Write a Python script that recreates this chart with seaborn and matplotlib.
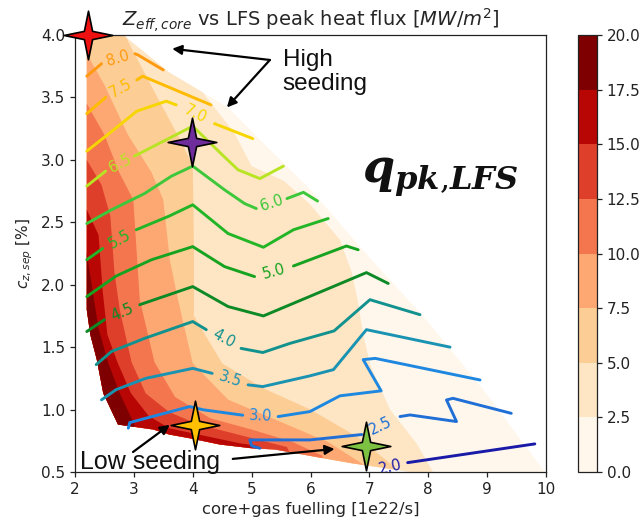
import numpy as np
import pandas as pd
import matplotlib
matplotlib.use("Agg")
import matplotlib.pyplot as plt
from matplotlib.path import Path
from matplotlib.patches import Polygon
from matplotlib.colors import ListedColormap, BoundaryNorm
import matplotlib.cm as mcm
import seaborn as sns

# ------------------------------------------------------------------ data
# filled field: LFS peak heat flux bands [MW/m2]
q_levels = [0.0, 2.5, 5.0, 7.5, 10.0, 12.5, 15.0, 17.5, 20.0]

# outline of the scanned (fuelling, seeding) domain
dom_x = [2.2, 2.2, 2.26, 2.37, 2.48, 2.73, 3.33, 3.6, 3.95, 4.46, 5.0, 5.4, 6.1, 6.7,
         7.7, 9.98, 9.0, 8.0, 7.0, 6.0, 5.1, 4.6, 3.6, 2.82]
dom_y = [4.0, 1.80, 1.60, 1.40, 1.13, 0.88, 0.84, 0.80, 0.77, 0.72, 0.69, 0.68, 0.62, 0.57,
         0.50, 0.50, 1.12, 1.70, 2.22, 2.76, 3.18, 3.42, 3.70, 4.0]

# iso-lines of q (boundaries between colour bands), high side = lower-left
q_iso_2p5 = [(4.0, 3.75), (4.2, 3.52), (4.7, 3.22), (5.0, 2.95), (5.55, 2.83), (6.0, 2.64),
             (6.5, 2.36), (6.7, 2.1), (6.8, 1.88), (6.9, 1.585), (7.02, 1.35), (7.35, 1.0),
             (7.8, 0.73), (8.08, 0.5), (8.12, 0.4)]
q_iso_5p0 = [(2.7, 4.2), (2.9, 3.95), (3.4, 3.5), (3.8, 3.15), (4.0, 2.95), (4.02, 2.3),
             (4.02, 1.75), (4.5, 1.37), (5.2, 1.17), (6.0, 1.0), (6.8, 0.78), (7.4, 0.55),
             (7.5, 0.4)]
q_iso_7p5 = [(2.0, 3.9), (2.2, 3.85), (2.5, 3.6), (2.9, 3.2), (3.3, 2.9), (3.5, 2.68),
             (3.61, 2.2), (3.75, 1.88), (4.0, 1.37), (4.6, 1.08), (5.5, 0.9), (6.3, 0.74),
             (6.9, 0.56), (7.0, 0.4)]
q_iso_10p0 = [(2.0, 3.47), (2.2, 3.45), (2.5, 3.2), (2.75, 2.9), (2.99, 2.68), (3.1, 1.88),
              (3.35, 1.38), (3.7, 1.1), (4.3, 0.93), (5.0, 0.84), (5.7, 0.74), (6.2, 0.63),
              (6.3, 0.4)]
q_iso_12p5 = [(2.0, 3.02), (2.2, 3.0), (2.45, 2.8), (2.6, 2.55), (2.67, 2.1), (2.76, 1.8),
              (2.96, 1.38), (3.2, 1.13), (3.6, 0.98), (4.1, 0.88), (4.6, 0.82), (5.1, 0.76),
              (5.6, 0.70), (5.9, 0.4)]
q_iso_15p0 = [(2.0, 2.62), (2.2, 2.6), (2.4, 2.4), (2.47, 1.95), (2.55, 1.6), (2.72, 1.38),
              (2.95, 1.13), (3.25, 0.95), (3.6, 0.85), (4.2, 0.79), (4.8, 0.73), (5.1, 0.71),
              (5.2, 0.5)]
q_iso_17p5 = [(2.0, 2.27), (2.2, 2.25), (2.3, 1.95), (2.4, 1.65), (2.56, 1.38), (2.76, 1.13),
              (3.0, 0.89), (3.1, 0.7)]

# Z_eff,core contour lines (None = gap holding the inline label)
zeff_levels = [2.0, 2.5, 3.0, 3.5, 4.0, 4.5, 5.0, 5.5, 6.0, 6.5, 7.0, 7.5, 8.0]
z2p0 = [(7.05, 0.51), None, (7.65, 0.575), (9.81, 0.725)]
z2p5 = [(5.14, 0.69), (5.0, 0.71), (4.97, 0.757), (5.99, 0.757), (6.87, 0.80), None,
        (7.52, 0.944), (7.69, 0.957), (8.48, 0.904), (8.31, 1.077), (8.42, 1.09), (9.41, 0.97)]
z3p0 = [(2.905, 0.851), (2.93, 0.896), (3.95, 1.024), (4.18, 0.998), (4.85, 0.955), None,
        (5.45, 0.944), (5.99, 0.984), (6.5, 1.11), (7.2, 1.15), (6.895, 1.40), (7.1, 1.41),
        (8.88, 1.237)]
z3p5 = [(2.45, 1.078), (2.7, 1.16), (3.2, 1.25), (4.0, 1.33), (4.33, 1.29), None,
        (4.94, 1.198), (5.19, 1.184), (5.99, 1.27), (6.39, 1.32), (6.95, 1.64), (8.37, 1.50)]
z4p0 = [(2.36, 1.36), (2.62, 1.465), (3.18, 1.57), (4.0, 1.705), (4.23, 1.64), None,
        (4.82, 1.49), (5.19, 1.457), (5.65, 1.53), (6.4, 1.63), (7.01, 1.88), (7.86, 1.76)]
z4p5 = [(2.2, 1.625), (2.5, 1.72), None, (3.10, 1.84), (4.0, 1.985), (4.6, 1.825),
        (5.2, 1.75), (6.95, 2.097), (7.32, 2.01)]
z5p0 = [(2.2, 1.905), (2.7, 2.07), (3.3, 2.2), (4.0, 2.305), (4.54, 2.145), (5.05, 2.065), None,
        (5.71, 2.15), (6.61, 2.31), (6.81, 2.28)]
z5p5 = [(2.2, 2.20), (2.47, 2.29), None, (3.04, 2.44), (3.6, 2.55), (4.0, 2.64), (4.6, 2.41),
        (5.2, 2.30), (5.71, 2.44), (6.3, 2.53)]
z6p0 = [(2.2, 2.49), (2.62, 2.6), (3.18, 2.73), (3.64, 2.87), (4.0, 2.95), (4.54, 2.76),
        (4.88, 2.65), (5.08, 2.61), None, (5.6, 2.69), (5.88, 2.74), (6.12, 2.67)]
z6p5 = [(2.2, 2.79), (2.52, 2.91), None, (3.01, 3.03), (4.0, 3.27), (4.48, 3.05),
        (4.77, 2.92), (5.14, 2.85), (5.54, 2.95)]
z7p0 = [(2.2, 3.07), (2.55, 3.2), (3.05, 3.39), (3.55, 3.47), (3.72, 3.44), None,
        (4.37, 3.29), (5.02, 3.17)]
z7p5 = [(2.2, 3.37), (2.52, 3.50), None, (3.05, 3.64), (3.15, 3.67), (4.31, 3.44)]
z8p0 = [(2.2, 3.67), (2.45, 3.77), None, (3.02, 3.85), (3.07, 3.84), (3.5, 3.72)]

# highlighted simulations
star_x = [2.22, 3.98, 4.04, 6.95]
star_y = [4.0, 3.14, 0.878, 0.71]
star_colors = ["#ee1111", "#6f2d9b", "#ffc000", "#7dc142"]

# line colours per Zeff level (as seen in the figure)
zeff_colors = ["#1a1aa8", "#1f6fd6", "#1e88e0", "#1a93b3", "#12928e", "#0d8a26",
               "#16a320", "#22b526", "#3cc83a", "#b8e424", "#f7d600", "#ffbb00", "#ff9a10"]

# ------------------------------------------------------------------ style
sns.set_style("ticks")
plt.rcParams["font.family"] = ["DejaVu Sans"]
plt.rcParams["axes.edgecolor"] = "#222222"
plt.rcParams["xtick.color"] = "#222222"
plt.rcParams["ytick.color"] = "#222222"

fig = plt.figure(figsize=(6.44, 5.31), dpi=100)
ax = fig.add_axes([75 / 644, 1 - 472 / 531, 471 / 644, 437 / 531])
cax = fig.add_axes([578 / 644, 1 - 472 / 531, 19 / 644, 437 / 531])

ax.set_xlim(2, 10)
ax.set_ylim(0.5, 4.0)

band_colors = [plt.cm.OrRd(i / 7) for i in range(8)]

# domain, filled with the lowest band
dom_patch = Polygon(np.column_stack([dom_x, dom_y]), closed=True, transform=ax.transData,
                    facecolor=band_colors[0], edgecolor="none", zorder=1)
ax.add_patch(dom_patch)

iso_list = [q_iso_2p5, q_iso_5p0, q_iso_7p5, q_iso_10p0, q_iso_12p5, q_iso_15p0, q_iso_17p5]
for i, iso in enumerate(iso_list):
    xs = [p[0] for p in iso]
    ys = [p[1] for p in iso]
    xs += [xs[-1], 1.8, 1.8, xs[0]]
    ys += [0.3, 0.3, 4.3, 4.3]
    poly = ax.fill(xs, ys, facecolor=band_colors[i + 1], edgecolor="none", lw=0,
                   zorder=1.1 + i * 0.01)[0]
    poly.set_clip_path(dom_patch)

# Zeff lines through seaborn
zeff_lines = [z2p0, z2p5, z3p0, z3p5, z4p0, z4p5, z5p0, z5p5, z6p0, z6p5, z7p0, z7p5, z8p0]
zcolor = dict(zip(zeff_levels, zeff_colors))
rows = []
gaps = []
seg = 0
for lv, pts in zip(zeff_levels, zeff_lines):
    cur = []
    for k, p in enumerate(pts):
        if p is None:
            if len(cur) >= 2:
                for (x, y) in cur:
                    rows.append(dict(x=x, y=y, level=lv, seg=seg))
                seg += 1
            cur = []
            gaps.append((lv, pts[k - 1], pts[k + 1]))
        else:
            cur.append(p)
    if len(cur) >= 2:
        for (x, y) in cur:
            rows.append(dict(x=x, y=y, level=lv, seg=seg))
        seg += 1
df = pd.DataFrame(rows)
sns.lineplot(data=df, x="x", y="y", hue="level", units="seg", estimator=None, sort=False,
             palette=zcolor, linewidth=2.1, legend=False, ax=ax, zorder=3)

for lv, p0, p1 in gaps:
    d0 = ax.transData.transform(p0)
    d1 = ax.transData.transform(p1)
    ang = np.degrees(np.arctan2(d1[1] - d0[1], d1[0] - d0[0]))
    if ang > 90:
        ang -= 180
    if ang < -90:
        ang += 180
    ax.text((p0[0] + p1[0]) / 2, (p0[1] + p1[1]) / 2, f"{lv:.1f}", color=zcolor[lv],
            fontsize=10.5, ha="center", va="center", rotation=ang, rotation_mode="anchor",
            zorder=3, clip_on=True)

# stars
star_path = Path([(0, 1), (0.17, 0.17), (1, 0), (0.17, -0.17), (0, -1), (-0.17, -0.17),
                  (-1, 0), (-0.17, 0.17), (0, 1)],
                 [Path.MOVETO] + [Path.LINETO] * 7 + [Path.CLOSEPOLY])
for sx, sy, sc in zip(star_x, star_y, star_colors):
    ax.plot([sx], [sy], marker=star_path, markersize=35, markerfacecolor=sc,
            markeredgecolor="black", markeredgewidth=1.2, linestyle="none",
            zorder=6, clip_on=False)

# annotations
arrow_kw = dict(arrowstyle="-|>", color="black", lw=1.6, mutation_scale=14,
                shrinkA=0, shrinkB=0)
ax.annotate("", xy=(3.65, 3.89), xytext=(5.31, 3.80), arrowprops=arrow_kw, zorder=7)
ax.annotate("", xy=(4.58, 3.42), xytext=(5.31, 3.80), arrowprops=arrow_kw, zorder=7)
ax.annotate("", xy=(3.61, 0.878), xytext=(2.985, 0.66), arrowprops=arrow_kw, zorder=7)
ax.annotate("", xy=(6.41, 0.685), xytext=(4.68, 0.605), arrowprops=arrow_kw, zorder=7)

ax.text(5.53, 3.89, "High\nseeding", fontsize=17.5, family="Liberation Sans",
        ha="left", va="top", linespacing=1.15, color="#111111", zorder=7)
ax.text(2.085, 0.525, "Low seeding", fontsize=18, family="Liberation Sans",
        ha="left", va="baseline", color="#111111", zorder=7, clip_on=False)
ax.text(6.87, 2.82, r"$\boldsymbol{q}_{\boldsymbol{pk{,}LFS}}$", fontsize=33,
        math_fontfamily="dejavuserif", ha="left", va="baseline", color="#111111", zorder=7)

# axes cosmetics
ax.set_xticks([2, 3, 4, 5, 6, 7, 8, 9, 10])
ax.set_yticks([0.5, 1.0, 1.5, 2.0, 2.5, 3.0, 3.5, 4.0])
ax.set_yticklabels([f"{v:.1f}" for v in [0.5, 1.0, 1.5, 2.0, 2.5, 3.0, 3.5, 4.0]])
ax.tick_params(labelsize=11, direction="out", length=3.5, width=0.9)
for s in ax.spines.values():
    s.set_visible(True)
    s.set_linewidth(0.9)
ax.set_xlabel("core+gas fuelling [1e22/s]", fontsize=11.8)
ax.set_ylabel(r"$c_{z, sep}$ [%]", fontsize=11)
ax.set_title(r"$Z_{eff, core}$ vs LFS peak heat flux [$MW/m^2$]", fontsize=14, pad=6)

# colorbar
cmap = ListedColormap(band_colors)
norm = BoundaryNorm(q_levels, cmap.N)
cb = fig.colorbar(mcm.ScalarMappable(norm=norm, cmap=cmap), cax=cax, ticks=q_levels,
                  format="%.1f")
cb.ax.tick_params(labelsize=11, length=3.5, width=0.9)
cb.outline.set_linewidth(0.9)

fig.savefig("out.png", dpi=100)
